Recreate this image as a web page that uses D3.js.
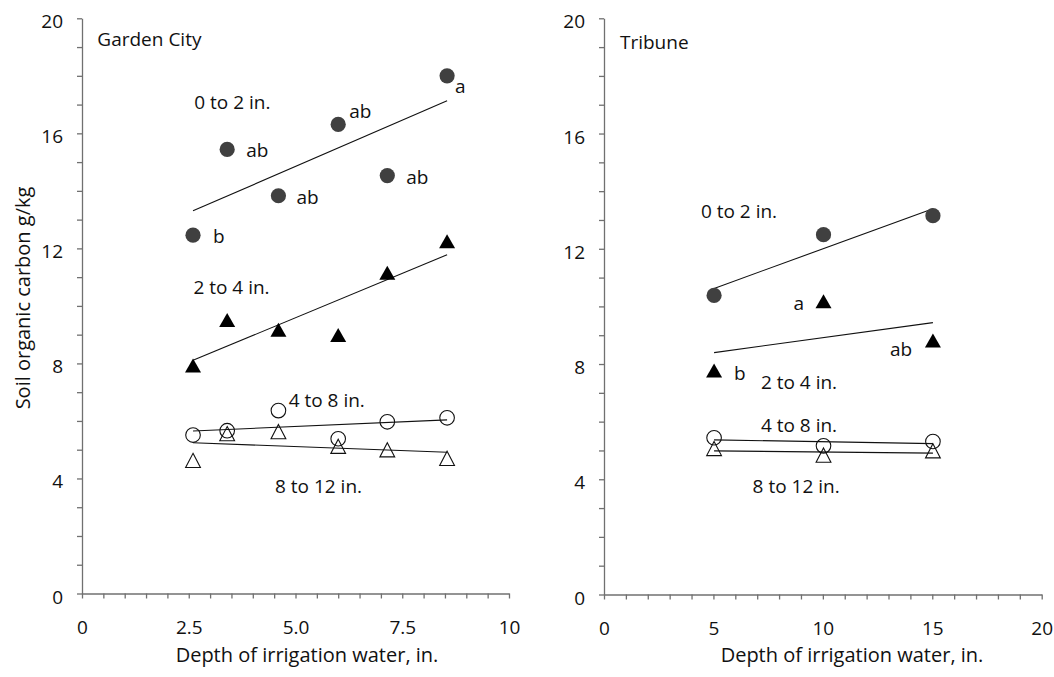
<!DOCTYPE html>
<html>
<head>
<meta charset="utf-8">
<script src="https://cdn.jsdelivr.net/npm/d3@7"></script>
<style>
  html, body { margin: 0; padding: 0; background: #fff; }
  svg text { font-family: "Open Sans", "Noto Sans", sans-serif; fill: #111; }
</style>
</head>
<body>
<svg id="chart" width="1054" height="677"></svg>
<script>
// ---- Garden City ----
const gcDepth      = [2.6, 3.4, 4.6, 6.0, 7.15, 8.55];
const gc0to2       = [12.46, 15.44, 13.83, 16.31, 14.53, 18.0];
const gc2to4       = [7.92, 9.5, 9.16, 8.98, 11.15, 12.24];
const gc4to8       = [5.51, 5.66, 6.36, 5.38, 5.97, 6.11];
const gc8to12      = [4.61, 5.54, 5.61, 5.10, 4.98, 4.68];
const gcLetters    = ["b", "ab", "ab", "ab", "ab", "a"];   // 0 to 2 in. separation letters

// ---- Tribune ----
const trDepth      = [5.03, 10.03, 15.03];
const tr0to2       = [10.38, 12.49, 13.15];
const tr2to4       = [7.77, 10.17, 8.81];
const tr4to8       = [5.44, 5.16, 5.31];
const tr8to12      = [5.05, 4.82, 4.97];
const trLetters    = ["b", "a", "ab"];                      // 2 to 4 in. separation letters

// ---- Axes ----
const yTicks       = [0, 4, 8, 12, 16, 20];
const gcXTicks     = [0, 2.5, 5, 7.5, 10];
const gcXTickText  = ["0", "2.5", "5.0", "7.5", "10"];
const trXTicks     = [0, 5, 10, 15, 20];
const trXTickText  = ["0", "5", "10", "15", "20"];
const depthLabels  = ["0 to 2 in.", "2 to 4 in.", "4 to 8 in.", "8 to 12 in."];
const xTitle       = "Depth of irrigation water, in.";
const yTitle       = "Soil organic carbon g/kg";

const svg = d3.select("#chart");
const AXIS = "#707070";
const FS = 19;        // labels and tick text
const FS_TITLE = 20;  // axis titles

// least-squares fit, drawn across the span of the observed depths
function fit(xs, ys) {
  const n = xs.length;
  const mx = d3.mean(xs), my = d3.mean(ys);
  let sxy = 0, sxx = 0;
  for (let i = 0; i < n; i++) { sxy += (xs[i] - mx) * (ys[i] - my); sxx += (xs[i] - mx) ** 2; }
  const b = sxy / sxx, a = my - b * mx;
  const x0 = d3.min(xs), x1 = d3.max(xs);
  return [[x0, a + b * x0], [x1, a + b * x1]];
}

const triFilled = "M0,-7.2L8,6.8L-8,6.8Z";
const triOpen   = "M0,-7.6L7.4,6.6L-7.4,6.6Z";

function panel(cfg) {
  const x = d3.scaleLinear().domain(cfg.xDomain).range(cfg.xRange);
  const y = d3.scaleLinear().domain([0, 20]).range(cfg.yRange);
  const g = svg.append("g");

  // y axis: a tick every unit, labels every 4
  const yAx = g.append("g")
    .attr("transform", `translate(${cfg.xRange[0]},0)`)
    .call(d3.axisLeft(y).tickValues(d3.range(0, 21, 1)).tickSize(5).tickSizeOuter(0).tickPadding(14)
      .tickFormat(d => yTicks.includes(d) ? String(d) : ""));
  yAx.selectAll("text").attr("dy", "0.5em");
  // x axis
  const xAx = g.append("g")
    .attr("transform", `translate(0,${cfg.yRange[0]})`)
    .call(d3.axisBottom(x).tickValues(cfg.minorX).tickSize(5).tickSizeOuter(0).tickPadding(22.5)
      .tickFormat(d => { const i = cfg.xTicks.indexOf(d); return i >= 0 ? cfg.xTickText[i] : ""; }));
  [yAx, xAx].forEach(a => {
    a.selectAll("path, line").attr("stroke", AXIS).attr("stroke-width", 1.3);
    a.selectAll("text").attr("font-size", FS).attr("fill", "#111")
      .style("font-family", '"Open Sans", "Noto Sans", sans-serif');
  });

  // x axis title
  g.append("text").attr("x", cfg.xTitleX).attr("y", 661.5)
    .attr("text-anchor", "middle").attr("font-size", FS_TITLE).text(xTitle);

  // site name
  g.append("text").attr("x", x(cfg.site.x)).attr("y", y(cfg.site.y))
    .attr("font-size", FS).text(cfg.site.text);

  // trend lines
  const line = d3.line().x(d => x(d[0])).y(d => y(d[1]));
  cfg.series.forEach(s => {
    g.append("path").attr("d", line(fit(cfg.depth, s.values)))
      .attr("fill", "none").attr("stroke", "#111").attr("stroke-width", 1.1);
  });

  // markers
  cfg.series.forEach(s => {
    const m = g.append("g").selectAll("g").data(s.values).join("g")
      .attr("transform", (v, i) => `translate(${x(cfg.depth[i])},${y(v)})`);
    if (s.shape === "circle") {
      m.append("circle").attr("r", s.filled ? 7.6 : 7.3)
        .attr("fill", s.filled ? "#404040" : "none")
        .attr("stroke", s.filled ? "none" : "#111").attr("stroke-width", 1.1);
    } else {
      m.append("path").attr("d", s.filled ? triFilled : triOpen)
        .attr("fill", s.filled ? "#000" : "none")
        .attr("stroke", s.filled ? "none" : "#111").attr("stroke-width", 1.1);
    }
  });

  // separation letters beside their points
  const ls = cfg.letters;
  g.append("g").selectAll("text").data(ls.text).join("text")
    .attr("x", (t, i) => x(cfg.depth[i]) + ls.offset[i][0])
    .attr("y", (t, i) => y(ls.values[i]) + ls.offset[i][1])
    .attr("font-size", FS).text(t => t);

  // depth labels
  g.append("g").selectAll("text").data(depthLabels).join("text")
    .attr("x", (t, i) => x(cfg.depthLabelPos[i][0]))
    .attr("y", (t, i) => y(cfg.depthLabelPos[i][1]))
    .attr("font-size", FS).text(t => t);
}

panel({
  xDomain: [0, 10], xRange: [82, 509], yRange: [593.5, 18.3],
  minorX: d3.range(0, 10.01, 0.5), xTicks: gcXTicks, xTickText: gcXTickText,
  xTitleX: 307,
  depth: gcDepth,
  site: { text: "Garden City", x: 0.36, y: 19.05 },
  series: [
    { values: gc0to2, shape: "circle", filled: true },
    { values: gc2to4, shape: "tri", filled: true },
    { values: gc4to8, shape: "circle", filled: false },
    { values: gc8to12, shape: "tri", filled: false }
  ],
  letters: { text: gcLetters, values: gc0to2,
    offset: [[20, 8], [19, 8], [18, 8], [11, -6], [19, 8], [8, 17]] },
  depthLabelPos: [[2.63, 16.85], [2.61, 10.43], [4.84, 6.49], [4.52, 3.48]]
});

panel({
  xDomain: [0, 20], xRange: [604, 1041.7], yRange: [594.5, 18.3],
  minorX: d3.range(0, 20.01, 1), xTicks: trXTicks, xTickText: trXTickText,
  xTitleX: 852,
  depth: trDepth,
  site: { text: "Tribune", x: 0.73, y: 18.95 },
  series: [
    { values: tr0to2, shape: "circle", filled: true },
    { values: tr2to4, shape: "tri", filled: true },
    { values: tr4to8, shape: "circle", filled: false },
    { values: tr8to12, shape: "tri", filled: false }
  ],
  letters: { text: trLetters, values: tr2to4,
    offset: [[20, 9], [-30, 8], [-43, 15]] },
  depthLabelPos: [[4.43, 13.08], [7.17, 7.15], [7.17, 5.65], [6.79, 3.51]]
});

// shared y axis title
svg.append("text")
  .attr("transform", "translate(30,298) rotate(-90)")
  .attr("text-anchor", "middle").attr("font-size", FS_TITLE).text(yTitle);
</script>
</body>
</html>
